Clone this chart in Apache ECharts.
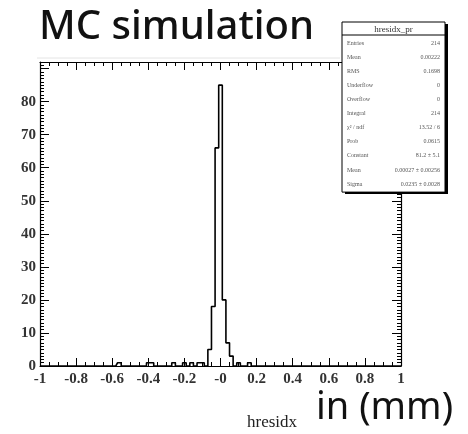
<!DOCTYPE html>
<html>
<head>
<meta charset="utf-8">
<script src="https://cdn.jsdelivr.net/npm/echarts@6/dist/echarts.min.js"></script>
<style>
	html, body { margin: 0; padding: 0; background: #fff; }
	#main { width: 468px; height: 434px; }
</style>
</head>
<body>
<div id="main"></div>
<script>
	// bin width of the histogram (centres sit on even hundredths)
	var BIN_W = 0.02;
	// peak bins: centre -> count
	var peakCenters = [-0.06, -0.04, -0.02, 0.00, 0.02, 0.04, 0.06];
	var peakCounts = [5, 18, 66, 85, 20, 7, 3];
	// isolated single entries in the tails
	var tailCenters = [-0.56, -0.40, -0.38, -0.26, -0.20, -0.16, -0.12, -0.10, 0.10, 0.16];
	var tailCounts = [1, 1, 1, 1, 1, 1, 1, 1, 1, 1];

	// axis ticks
	var xTicks = [-1, -0.8, -0.6, -0.4, -0.2, 0, 0.2, 0.4, 0.6, 0.8, 1];
	var yTicks = [0, 10, 20, 30, 40, 50, 60, 70, 80];

	// stats box
	var statTitle = 'hresidx_pr';
	var statNames = ['Entries', 'Mean', 'RMS', 'Underflow', 'Overflow', 'Integral',
		'\u03c7\u00b2 / ndf', 'Prob', 'Constant', 'Mean', 'Sigma'];
	var statValues = ['214', '0.00222', '0.1698', '0', '0', '214',
		'13.52 / 6', '0.0615', '81.2 \u00b1 5.1', '0.00027 \u00b1 0.00256', '0.0235 \u00b1 0.0028'];

	var myChart = echarts.init(document.getElementById('main'));

	// build histogram, zero where no entry
	function key(v) { return Math.round(v * 100); }
	var lookup = {};
	peakCenters.forEach(function(c, i) { lookup[key(c)] = peakCounts[i]; });
	tailCenters.forEach(function(c, i) { lookup[key(c)] = (lookup[key(c)] || 0) + tailCounts[i]; });
	var histData = [];
	for (var k = -50; k <= 50; k++) {
		var c = k * 2 / 100;
		histData.push([c, lookup[key(c)] || 0]);
	}

	var GL = 40, GT = 62, GR = 67, GB = 68;
	var SERIF = '"Liberation Serif", "DejaVu Serif", serif';

	function xAxisCfg(pos, labels) {
		return {
			type: 'value', position: pos, min: xTicks[0], max: xTicks[xTicks.length - 1], interval: 0.2,
			axisLine: { show: true, onZero: false, lineStyle: { color: '#000', width: 1.2 } },
			axisTick: { show: true, inside: true, length: 8, lineStyle: { color: '#000' } },
			minorTick: { show: true, splitNumber: 4, length: 4, lineStyle: { color: '#000' } },
			splitLine: { show: false },
			axisLabel: {
				show: labels, margin: 6, color: '#333', fontFamily: SERIF, fontSize: 15, fontWeight: 'bold',
				formatter: function(v) { return v === 0 ? '-0' : String(Math.round(v * 10) / 10); }
			}
		};
	}
	function yAxisCfg(pos, labels) {
		return {
			type: 'value', position: pos, min: yTicks[0], max: 92, interval: 10,
			axisLine: { show: true, onZero: false, lineStyle: { color: '#000', width: 1.2 } },
			axisTick: { show: true, inside: true, length: 9, lineStyle: { color: '#000' } },
			minorTick: { show: true, splitNumber: 10, length: 4, lineStyle: { color: '#000' } },
			splitLine: { show: false },
			axisLabel: {
				show: labels, margin: 4, color: '#333', fontFamily: SERIF, fontSize: 15, fontWeight: 'bold',
				formatter: function(v) { return yTicks.indexOf(v) >= 0 ? String(v) : ''; }
			}
		};
	}

	// stats box graphic
	var BX = 342, BY = 22, BW = 103, TH = 13, RH = 14.1;
	var BH = TH + RH * statNames.length + 2;
	var boxEls = [
		{ type: 'rect', shape: { x: BX + 3, y: BY + 2, width: BW, height: BH }, style: { fill: '#000' }, z: 10 },
		{ type: 'rect', shape: { x: BX, y: BY, width: BW, height: BH }, style: { fill: '#fff', stroke: '#000', lineWidth: 1 }, z: 11 },
		{ type: 'line', shape: { x1: BX, y1: BY + TH, x2: BX + BW, y2: BY + TH }, style: { stroke: '#000', lineWidth: 1 }, z: 12 },
		{ type: 'text', x: BX + BW / 2, y: BY + TH / 2 + 1, z: 12,
			style: { text: statTitle, font: '9px ' + SERIF, fill: '#333', align: 'center', verticalAlign: 'middle' } }
	];
	statNames.forEach(function(n, i) {
		var yy = BY + TH + RH * (i + 0.5) + 1;
		boxEls.push({ type: 'text', x: BX + 5, y: yy, z: 12,
			style: { text: n, font: '6px ' + SERIF, fill: '#555', align: 'left', verticalAlign: 'middle' } });
		boxEls.push({ type: 'text', x: BX + BW - 5, y: yy, z: 12,
			style: { text: statValues[i], font: '6px ' + SERIF, fill: '#555', align: 'right', verticalAlign: 'middle' } });
	});

	myChart.setOption({
		animation: false,
		backgroundColor: '#fff',
		grid: { left: GL, top: GT, right: GR, bottom: GB, containLabel: false },
		xAxis: [xAxisCfg('bottom', true), xAxisCfg('top', false)],
		yAxis: [yAxisCfg('left', true), yAxisCfg('right', false)],
		series: [{
			type: 'line', step: 'middle', xAxisIndex: 0, yAxisIndex: 0,
			data: histData, symbol: 'none', clip: true,
			lineStyle: { color: '#000', width: 1.6 }
		}],
		graphic: [
			{ type: 'text', left: 39, top: 8,
				style: { text: 'MC simulation', font: '500 40px "Noto Sans", sans-serif', fill: '#111' } },
			{ type: 'line', shape: { x1: 37, y1: 58, x2: 340, y2: 58 }, style: { stroke: '#e4e4e4', lineWidth: 1 } },
			{ type: 'text', left: 247, top: 414,
				style: { text: 'hresidx', font: '17px ' + SERIF, fill: '#222' } },
			{ type: 'text', left: 316, top: 389,
				style: { text: 'in (mm)', font: '38px "Noto Sans", sans-serif', fill: '#111' } },
			{ type: 'group', children: boxEls }
		]
	});
</script>
</body>
</html>
